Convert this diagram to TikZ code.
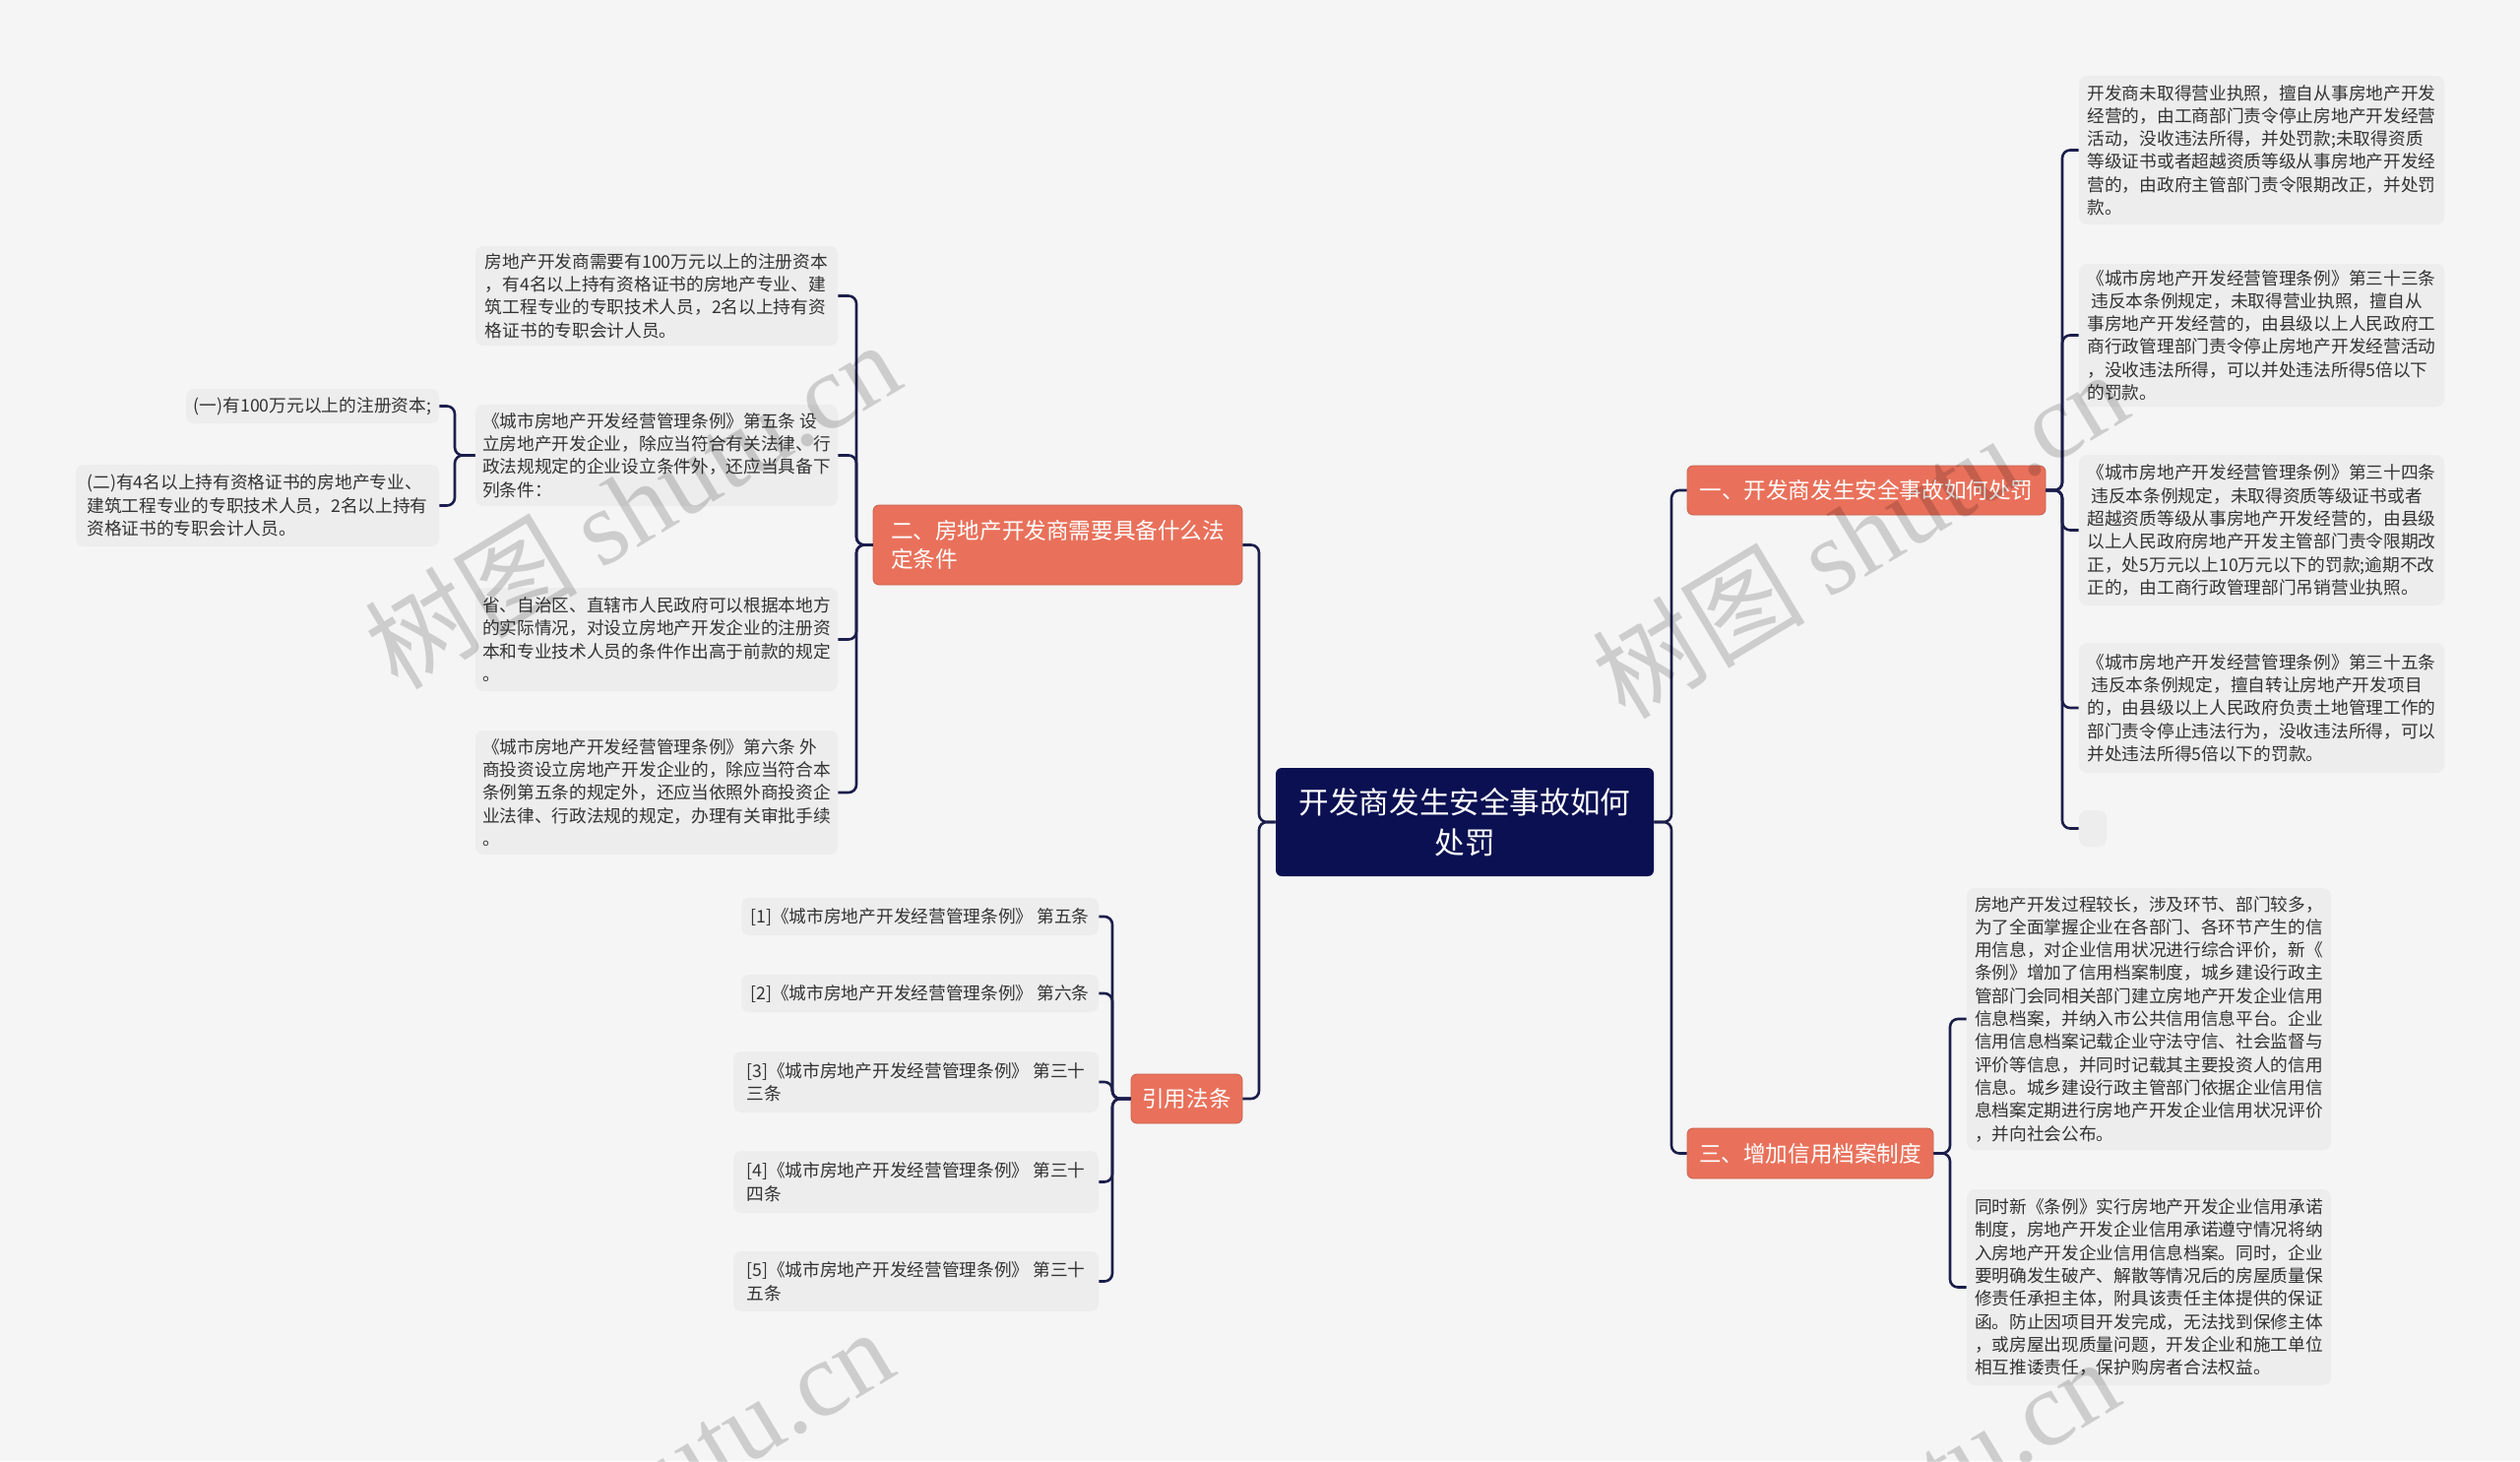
\documentclass[tikz,border=0pt]{standalone}
\usepackage{fontspec}
\setmainfont{Noto Sans CJK SC}
\newfontfamily\wmlatin{Liberation Serif}
\definecolor{bgc}{HTML}{F5F5F5}
\definecolor{leafc}{HTML}{EDEDED}
\definecolor{txtc}{HTML}{333333}
\definecolor{navy}{HTML}{0B1052}
\definecolor{orangec}{HTML}{E9715B}
\definecolor{linec}{HTML}{1B1E4B}
\begin{document}
\begin{tikzpicture}[x=0.5pt,y=-0.5pt,
  sz/.style 2 args={minimum width=#1*0.5pt,minimum height=#2*0.5pt},
  leaf/.style={fill=leafc,rounded corners=4pt,text=txtc,font=\fontsize{8.85}{11.65}\selectfont,align=left,inner sep=0pt,anchor=center},
  branch/.style={fill=orangec,draw=orangec!85!black,line width=0.4pt,rounded corners=3pt,text=white,font=\fontsize{11.3}{14.5}\selectfont,align=left,inner sep=0pt,anchor=center},
  root/.style={fill=navy,rounded corners=3pt,text=white,font=\fontsize{15.3}{20.5}\selectfont,align=center,inner sep=0pt,anchor=center},
  conn/.style={draw=linec,line width=1.3pt,rounded corners=4pt},
  wm/.style={text=black,opacity=0.16,font=\fontsize{54}{54}\selectfont,rotate=31,anchor=center}]
\fill[bgc] (0,0) rectangle (2560,1484);
\useasboundingbox (0,0) rectangle (2560,1484);

% bracket x positions
\coordinate (bCL) at (1279,0);
\coordinate (bCR) at (1698,0);
\coordinate (bB2) at (870,0);
\coordinate (bL2) at (462,0);
\coordinate (bRef) at (1130,0);
\coordinate (bB1) at (2095,0);
\coordinate (bB3) at (1981,0);

% root
\node[root,sz={384}{110}] (c) at (1488,835) {开发商发生安全事故如何\\处罚};

% branches
\node[branch,sz={375}{81}] (b2) at (1074.5,553.5) {二、房地产开发商需要具备什么法\\定条件\hspace*{9em}};
\node[branch,sz={113}{50},align=center] (bref) at (1205.5,1116) {引用法条};
\node[branch,sz={364}{50},align=center] (b1) at (1896,498) {一、开发商发生安全事故如何处罚};
\node[branch,sz={250}{51},align=center] (b3) at (1839,1171.5) {三、增加信用档案制度};

% left leaves of b2
\node[leaf,sz={368}{101}] (l1) at (667,300.5) {房地产开发商需要有100万元以上的注册资本\\，有4名以上持有资格证书的房地产专业、建\\筑工程专业的专职技术人员，2名以上持有资\\格证书的专职会计人员。};
\node[leaf,sz={368}{103}] (l2) at (667,462.5) {《城市房地产开发经营管理条例》第五条 设\\立房地产开发企业，除应当符合有关法律、行\\政法规规定的企业设立条件外，还应当具备下\\列条件：};
\node[leaf,sz={257}{35}] (l2a) at (317.5,412.5) {(一)有100万元以上的注册资本;};
\node[leaf,sz={369}{83}] (l2b) at (261.5,513.5) {(二)有4名以上持有资格证书的房地产专业、\\建筑工程专业的专职技术人员，2名以上持有\\资格证书的专职会计人员。};
\node[leaf,sz={368}{105}] (l3) at (667,649.5) {省、自治区、直辖市人民政府可以根据本地方\\的实际情况，对设立房地产开发企业的注册资\\本和专业技术人员的条件作出高于前款的规定\\。};
\node[leaf,sz={368}{126}] (l4) at (667,805) {《城市房地产开发经营管理条例》第六条 外\\商投资设立房地产开发企业的，除应当符合本\\条例第五条的规定外，还应当依照外商投资企\\业法律、行政法规的规定，办理有关审批手续\\。};

% reference leaves
\node[leaf,sz={363}{38}] (f1) at (934.5,931) {[1]《城市房地产开发经营管理条例》 第五条};
\node[leaf,sz={363}{38}] (f2) at (934.5,1009) {[2]《城市房地产开发经营管理条例》 第六条};
\node[leaf,sz={371}{62}] (f3) at (930.5,1099) {[3]《城市房地产开发经营管理条例》 第三十\\三条};
\node[leaf,sz={371}{63}] (f4) at (930.5,1200.5) {[4]《城市房地产开发经营管理条例》 第三十\\四条};
\node[leaf,sz={371}{61}] (f5) at (930.5,1301.5) {[5]《城市房地产开发经营管理条例》 第三十\\五条};

% right leaves of b1
\node[leaf,sz={371}{151}] (r1) at (2297.5,152.5) {开发商未取得营业执照，擅自从事房地产开发\\经营的，由工商部门责令停止房地产开发经营\\活动，没收违法所得，并处罚款;未取得资质\\等级证书或者超越资质等级从事房地产开发经\\营的，由政府主管部门责令限期改正，并处罚\\款。};
\node[leaf,sz={371}{145}] (r2) at (2297.5,340.5) {《城市房地产开发经营管理条例》第三十三条\\\ 违反本条例规定，未取得营业执照，擅自从\\事房地产开发经营的，由县级以上人民政府工\\商行政管理部门责令停止房地产开发经营活动\\，没收违法所得，可以并处违法所得5倍以下\\的罚款。};
\node[leaf,sz={371}{153}] (r3) at (2297.5,538.5) {《城市房地产开发经营管理条例》第三十四条\\\ 违反本条例规定，未取得资质等级证书或者\\超越资质等级从事房地产开发经营的，由县级\\以上人民政府房地产开发主管部门责令限期改\\正，处5万元以上10万元以下的罚款;逾期不改\\正的，由工商行政管理部门吊销营业执照。};
\node[leaf,sz={371}{132}] (r4) at (2297.5,719) {《城市房地产开发经营管理条例》第三十五条\\\ 违反本条例规定，擅自转让房地产开发项目\\的，由县级以上人民政府负责土地管理工作的\\部门责令停止违法行为，没收违法所得，可以\\并处违法所得5倍以下的罚款。};
\node[leaf,sz={28}{37}] (r5) at (2126,841.5) {};

% leaves of b3
\node[leaf,sz={370}{266}] (t1) at (2183,1035) {房地产开发过程较长，涉及环节、部门较多，\\为了全面掌握企业在各部门、各环节产生的信\\用信息，对企业信用状况进行综合评价，新《\\条例》增加了信用档案制度，城乡建设行政主\\管部门会同相关部门建立房地产开发企业信用\\信息档案，并纳入市公共信用信息平台。企业\\信用信息档案记载企业守法守信、社会监督与\\评价等信息，并同时记载其主要投资人的信用\\信息。城乡建设行政主管部门依据企业信用信\\息档案定期进行房地产开发企业信用状况评价\\，并向社会公布。};
\node[leaf,sz={370}{199}] (t2) at (2183,1307.5) {同时新《条例》实行房地产开发企业信用承诺\\制度，房地产开发企业信用承诺遵守情况将纳\\入房地产开发企业信用信息档案。同时，企业\\要明确发生破产、解散等情况后的房屋质量保\\修责任承担主体，附具该责任主体提供的保证\\函。防止因项目开发完成，无法找到保修主体\\，或房屋出现质量问题，开发企业和施工单位\\相互推诿责任，保护购房者合法权益。};

% connectors: root
\foreach \n in {b2,bref} \draw[conn] (c.west) -- (c.west -| bCL) |- (\n.east);
\foreach \n in {b1,b3} \draw[conn] (c.east) -- (c.east -| bCR) |- (\n.west);
% b2 children
\foreach \n in {l1,l2,l3,l4} \draw[conn] (b2.west) -- (b2.west -| bB2) |- (\n.east);
% l2 children
\foreach \n in {l2a,l2b} \draw[conn] (l2.west) -- (l2.west -| bL2) |- (\n.east);
% refs
\foreach \n in {f1,f2,f3,f4,f5} \draw[conn] (bref.west) -- (bref.west -| bRef) |- (\n.east);
% b1 children
\foreach \n in {r1,r2,r3,r4,r5} \draw[conn] (b1.east) -- (b1.east -| bB1) |- (\n.west);
% b3 children
\foreach \n in {t1,t2} \draw[conn] (b3.east) -- (b3.east -| bB3) |- (\n.west);

% watermarks
\begin{scope}
\clip (0,0) rectangle (2560,1484);
\node[wm] (w1) at (642,512) {树图 {\wmlatin shutu.cn}};
\node[wm] (w2) at (1889,542) {树图 {\wmlatin shutu.cn}};
\node[wm] (w3) at (635,1515) {树图 {\wmlatin shutu.cn}};
\node[wm] (w4) at (1880,1545) {树图 {\wmlatin shutu.cn}};
\end{scope}
\end{tikzpicture}
\end{document}
